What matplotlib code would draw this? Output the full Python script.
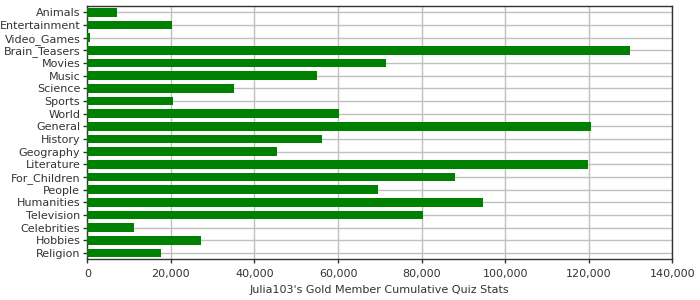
import matplotlib
matplotlib.use("Agg")
import matplotlib.pyplot as plt
from matplotlib.ticker import FuncFormatter

# categories, top to bottom as shown
categories = ["Animals", "Entertainment", "Video_Games", "Brain_Teasers", "Movies",
              "Music", "Science", "Sports", "World", "General", "History",
              "Geography", "Literature", "For_Children", "People", "Humanities",
              "Television", "Celebrities", "Hobbies", "Religion"]
values = [7100, 20300, 650, 130000, 71400, 54900, 35200, 20600, 60200, 120600,
          56100, 45300, 119900, 88000, 69500, 94700, 80300, 11200, 27300, 17700]
xticks = [0, 20000, 40000, 60000, 80000, 100000, 120000, 140000]

fig = plt.figure(figsize=(7, 3), dpi=100)
ax = fig.add_axes([0.1247, 0.1357, 0.8357, 0.8443])

pos = list(range(len(categories)))
ax.barh(pos, values, height=0.68, color="#008000", zorder=3)

ax.set_ylim(len(categories) - 0.5, -0.5)
ax.set_yticks(pos)
ax.set_yticklabels(categories)
ax.set_xlim(0, 140000)
ax.set_xticks(xticks)
ax.xaxis.set_major_formatter(FuncFormatter(lambda v, p: f"{int(v):,}"))

ax.grid(True, color="#c0c0c0", linewidth=1, zorder=0)
ax.set_axisbelow(True)
for s in ax.spines.values():
    s.set_color("#333333")
    s.set_linewidth(1)

ax.tick_params(axis="both", labelsize=8, colors="#333333", length=3, width=1, pad=2)
ax.tick_params(axis="x", pad=4)
ax.set_xlabel("Julia103's Gold Member Cumulative Quiz Stats", fontsize=8,
              color="#333333", labelpad=4)

fig.savefig("out.png", dpi=100)
